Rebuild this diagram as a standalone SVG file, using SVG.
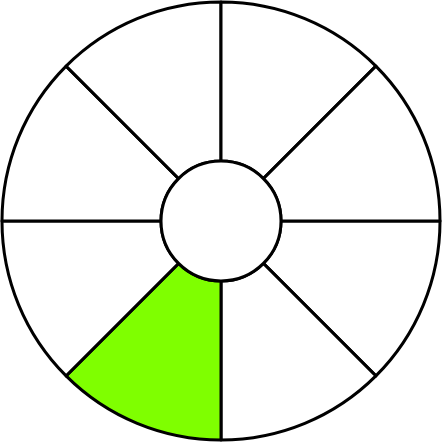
<svg xmlns="http://www.w3.org/2000/svg" width="444" height="444" viewBox="0 0 444 444">
<style>
.s{fill:#fff;stroke:#000;stroke-width:3;stroke-linejoin:round}
.g{fill:#7fff00}
</style>
<rect width="444" height="444" fill="#fff"/>
<g id="sectors">
<path class="s" d="M281 221 L440 221 A219 219 0 0 1 375.9 375.9 L263.4 263.4 A60 60 0 0 0 281 221 Z"/>
<path class="s" d="M263.4 263.4 L375.9 375.9 A219 219 0 0 1 221 440 L221 281 A60 60 0 0 0 263.4 263.4 Z"/>
<path class="s g" d="M221 281 L221 440 A219 219 0 0 1 66.1 375.9 L178.6 263.4 A60 60 0 0 0 221 281 Z"/>
<path class="s" d="M178.6 263.4 L66.1 375.9 A219 219 0 0 1 2 221 L161 221 A60 60 0 0 0 178.6 263.4 Z"/>
<path class="s" d="M161 221 L2 221 A219 219 0 0 1 66.1 66.1 L178.6 178.6 A60 60 0 0 0 161 221 Z"/>
<path class="s" d="M178.6 178.6 L66.1 66.1 A219 219 0 0 1 221 2 L221 161 A60 60 0 0 0 178.6 178.6 Z"/>
<path class="s" d="M221 161 L221 2 A219 219 0 0 1 375.9 66.1 L263.4 178.6 A60 60 0 0 0 221 161 Z"/>
<path class="s" d="M263.4 178.6 L375.9 66.1 A219 219 0 0 1 440 221 L281 221 A60 60 0 0 0 263.4 178.6 Z"/>
</g>
<g id="hub">
<circle class="s" cx="221" cy="221" r="60"/>
</g>
</svg>
